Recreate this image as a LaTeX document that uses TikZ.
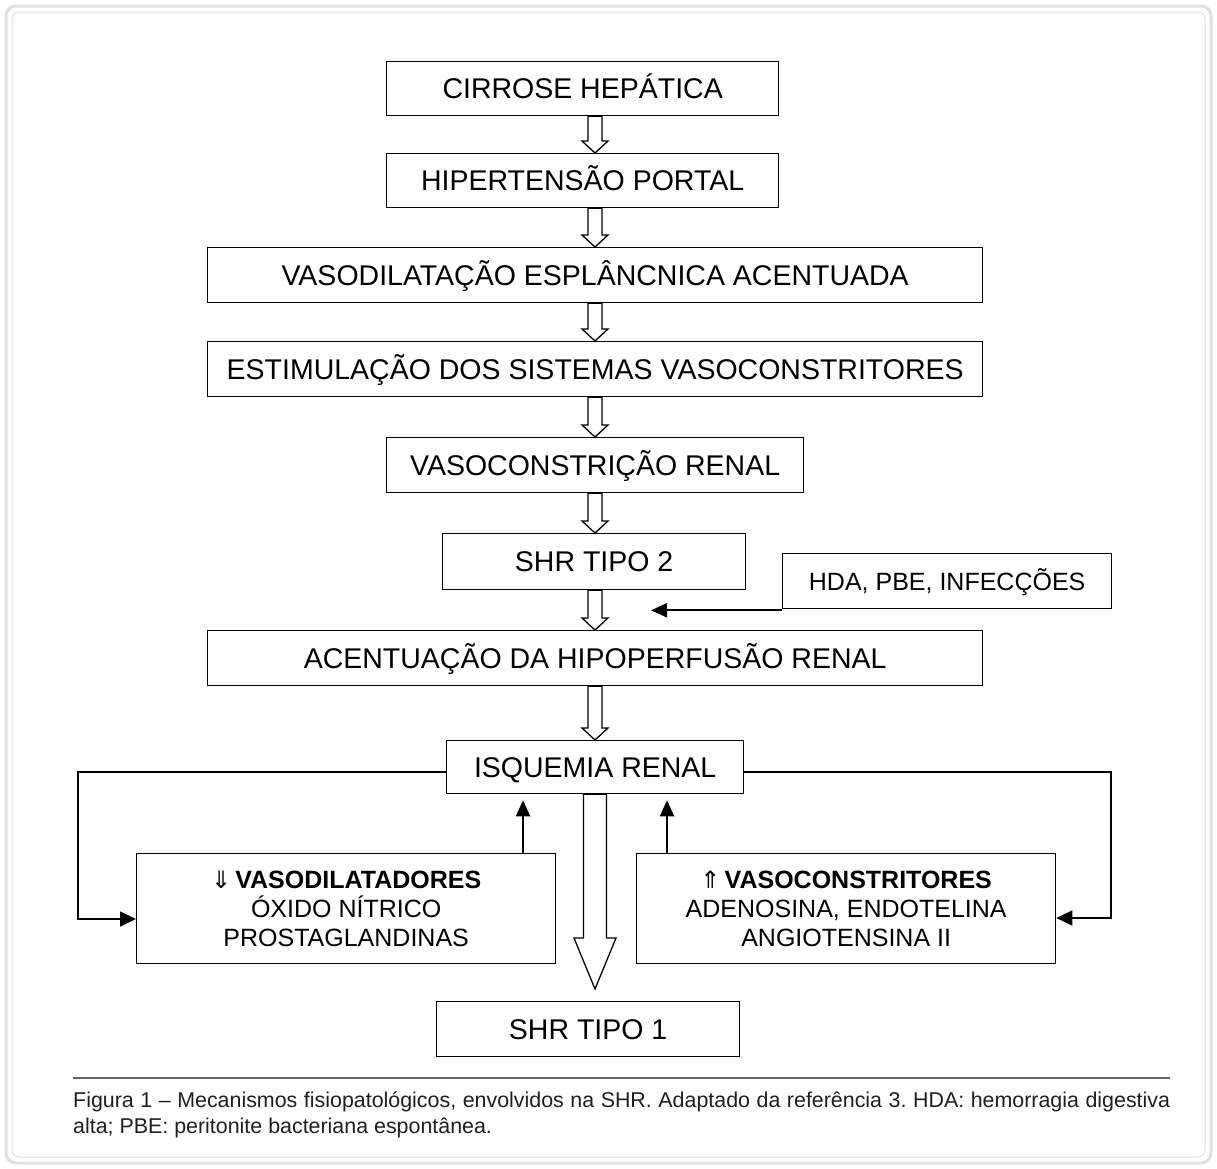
\documentclass[tikz,border=0pt]{standalone}
\usepackage{fontspec}
\setmainfont{Liberation Sans}
\newfontfamily\symf{DejaVu Sans}
\usetikzlibrary{arrows.meta,calc}
\definecolor{framegray}{RGB}{224,224,224}
\begin{document}
\begin{tikzpicture}[x=1pt,y=-1pt,
  box/.style={draw=black, line width=1.3pt, inner sep=0pt, anchor=north west,
    font=\fontsize{28.5}{34}\selectfont, text height=20.4pt, text depth=0pt},
  sidebox/.style={draw=black, line width=1.3pt, inner sep=0pt, anchor=north west,
    font=\fontsize{25}{30}\selectfont, text height=17.9pt, text depth=0pt},
  multibox/.style={draw=black, line width=1.3pt, inner sep=0pt, anchor=north west,
    align=center, font=\fontsize{25}{29}\selectfont},
  blk/.style={draw=black, fill=white, line width=1.3pt, line join=miter},
  arr/.style={draw=black, line width=2pt, -{Triangle[length=16pt,width=14pt]}},
  fb/.style={draw=black, line width=1.5pt, -{Triangle[length=16pt,width=15pt]}},
  frameout/.style={draw=framegray, line width=3pt, rounded corners=10pt},
  framein/.style={draw=framegray, line width=1pt, rounded corners=7pt},
  captline/.style={draw=black!60, line width=1.3pt}
]
\useasboundingbox (0,0) rectangle (1217,1168);
\path[frameout] (6,6) rectangle (1211,1163);
\path[framein] (12,12) rectangle (1205,1157);

\newcommand\sarr[2]{\path[blk] let \p1=(#1.south), \p2=(#2.north) in
  (588pt,\y1) -- (602pt,\y1) -- (602pt,\y2+12pt) -- (608pt,\y2+12pt) --
  (595pt,\y2) -- (582pt,\y2+12pt) -- (588pt,\y2+12pt) -- cycle;}

\node[box, minimum width=392pt, minimum height=54pt] (c1) at (386,61) {CIRROSE HEPÁTICA};
\node[box, minimum width=392pt, minimum height=54pt] (c2) at (386,153) {HIPERTENSÃO PORTAL};
\node[box, minimum width=775pt, minimum height=55pt] (c3) at (207,247) {VASODILATAÇÃO ESPLÂNCNICA ACENTUADA};
\node[box, minimum width=775pt, minimum height=55pt] (c4) at (207,341) {ESTIMULAÇÃO DOS SISTEMAS VASOCONSTRITORES};
\node[box, minimum width=417pt, minimum height=55pt] (c5) at (386,437) {VASOCONSTRIÇÃO RENAL};
\node[box, minimum width=303pt, minimum height=56pt] (c6) at (442,533) {SHR TIPO 2};
\node[sidebox, minimum width=329pt, minimum height=55pt] (hda) at (782,553) {HDA, PBE, INFECÇÕES};
\node[box, minimum width=775pt, minimum height=55pt] (c7) at (207,630) {ACENTUAÇÃO DA HIPOPERFUSÃO RENAL};
\node[box, minimum width=297pt, minimum height=53pt] (c8) at (446,740) {ISQUEMIA RENAL};
\node[multibox, minimum width=419pt, minimum height=110pt] (vd) at (136,853)
  {{\symf\fontsize{24}{29}\selectfont ⇓}\,\textbf{VASODILATADORES}\\ÓXIDO NÍTRICO\\PROSTAGLANDINAS};
\node[multibox, minimum width=419pt, minimum height=110pt] (vc) at (636,853)
  {{\symf\fontsize{24}{29}\selectfont ⇑}\,\textbf{VASOCONSTRITORES}\\ADENOSINA, ENDOTELINA\\ANGIOTENSINA II};
\node[box, minimum width=303pt, minimum height=55pt] (c9) at (436,1001) {SHR TIPO 1};

\sarr{c1}{c2}
\sarr{c2}{c3}
\sarr{c3}{c4}
\sarr{c4}{c5}
\sarr{c5}{c6}
\sarr{c6}{c7}
\sarr{c7}{c8}

% big arrow to SHR tipo 1
\path[blk] let \p1=(c8.south), \p2=(c9.north) in
  (583.5pt,\y1) -- (606.5pt,\y1) -- (606.5pt,\y2+63pt) -- (616pt,\y2+63pt) --
  (595pt,\y2+12pt) -- (574pt,\y2+63pt) -- (583.5pt,\y2+63pt) -- cycle;

% HDA arrow
\coordinate (ht) at (651,0);
\draw[arr] ($(hda.south west)+(0,1)$) -- (ht |- {$(hda.south west)+(0,1)$});

% up arrows
\coordinate (ul) at (523,0);
\coordinate (ur) at (667,0);
\draw[arr] (ul |- vd.north) -- ($(ul |- c8.south)+(0,6)$);
\draw[arr] (ur |- vc.north) -- ($(ur |- c8.south)+(0,6)$);

% feedback loops
\coordinate (lx) at (78,919);
\coordinate (rx) at (1111,918);
\draw[fb] ($(c8.west)+(0,5)$) -| (lx) -- (lx -| vd.west);
\draw[fb] ($(c8.east)+(0,5)$) -| (rx) -- (rx -| vc.east);

% caption
\coordinate (cl1) at (73,1078);
\coordinate (cl2) at (1170,1078);
\draw[captline] (cl1) -- (cl2);
\node[anchor=north west, inner sep=0pt, text width=1097pt, align=justify,
  font=\fontsize{21.4}{26}\selectfont\frenchspacing, text=black!88] (cap) at (73,1092)
  {Figura 1 – Mecanismos fisiopatológicos, envolvidos na SHR. Adaptado da referência 3. HDA: hemorragia digestiva\linebreak alta; PBE: peritonite bacteriana espontânea.};
\end{tikzpicture}
\end{document}
